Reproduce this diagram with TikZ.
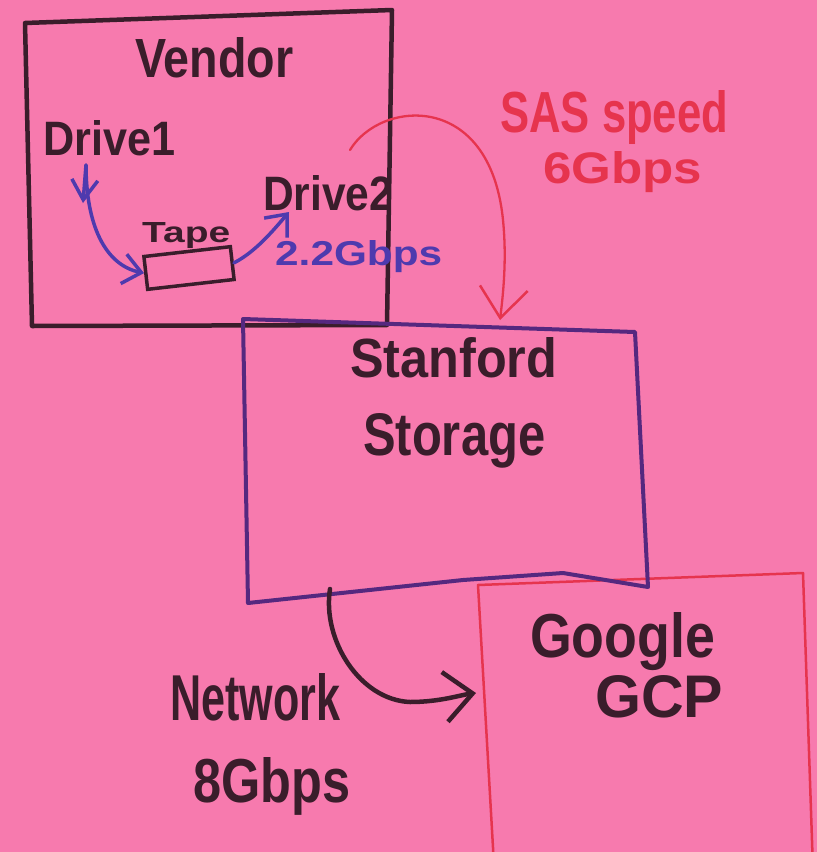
\documentclass[tikz,border=0pt]{standalone}
\usepackage{fontspec}
\setmainfont{Liberation Sans}
\usetikzlibrary{arrows.meta}
\definecolor{paper}{HTML}{F77AAE}
\definecolor{ink}{HTML}{3A1D2B}
\definecolor{bluepen}{HTML}{4E3AAE}
\definecolor{purplepen}{HTML}{55287F}
\definecolor{redpen}{HTML}{E6344E}
\newcommand{\hand}[3]{\resizebox{#1pt}{#2pt}{\bfseries #3}}
\begin{document}
\begin{tikzpicture}[x=1pt,y=-1pt,
  lbl/.style={inner sep=0pt, anchor=base west},
  inktext/.style={lbl, text=ink},
  bluetext/.style={lbl, text=bluepen},
  redtext/.style={lbl, text=redpen},
  inkbox/.style={draw=ink, line width=4.5pt, line join=round, line cap=round},
  purplebox/.style={draw=purplepen, line width=4pt, line join=round, line cap=round},
  redbox/.style={draw=redpen, line width=2.5pt, line join=round},
  bluearr/.style={draw=bluepen, line width=3.5pt, line cap=round,
    -{Straight Barb[length=18pt,width=30pt,line width=3.5pt]}},
  redarr/.style={draw=redpen, line width=2.3pt, line cap=round,
    -{Straight Barb[length=30pt,width=48pt,line width=2.5pt]}},
  inkarr/.style={draw=ink, line width=4.5pt, line cap=round,
    -{Straight Barb[length=28pt,width=50pt,line width=4.5pt]}}]
\useasboundingbox (0,0) rectangle (817,852);
\fill[paper] (0,0) rectangle (817,852);

% corner coordinates of the hand-drawn boxes
\coordinate (v1) at (25,23);  \coordinate (v2) at (392,10);
\coordinate (v3) at (387,325); \coordinate (v4) at (32,326);
\coordinate (s1) at (243,319); \coordinate (s2) at (635,332);
\coordinate (s3) at (648,587); \coordinate (s4) at (563,573);
\coordinate (s5) at (463,580); \coordinate (s6) at (248,603);
\coordinate (g1) at (496,900); \coordinate (g2) at (478,585);
\coordinate (g3) at (803,573); \coordinate (g4) at (814,900);

% Google GCP box (runs off the bottom)
\draw[redbox] (g1) -- (g2) -- (g3) -- (g4);
% Vendor box
\draw[inkbox] (v1) -- (v2) -- (v3) -- (v4) -- cycle;
% Stanford storage box
\draw[purplebox] (s1) -- (s2) -- (s3) -- (s4) -- (s5) -- (s6) -- cycle;

% texts
\node[inktext] (vendor) at (135,77) {\hand{158}{40}{Vendor}};
\node[inktext] (drive1) at (43,155) {\hand{132}{35}{Drive1}};
\node[inktext] (drive2) at (263,210) {\hand{130}{35}{Drive2}};
\node[inktext] (tapelbl) at (142,242) {\hand{88}{20}{Tape}};
\node[bluetext] (rate22) at (275,265) {\hand{167}{25}{2.2Gbps}};
\node[redtext] (sas) at (500,132) {\hand{228}{42}{SAS speed}};
\node[redtext] (sasrate) at (543,183) {\hand{159}{32}{6Gbps}};
\node[inktext] (stanford) at (350,377) {\hand{207}{40}{Stanford}};
\node[inktext] (storage) at (363,455) {\hand{182}{42}{Storage}};
\node[inktext] (google) at (530,657) {\hand{185}{45}{Google}};
\node[inktext] (gcp) at (595,717) {\hand{128}{42}{GCP}};
\node[inktext] (network) at (170,720) {\hand{170}{47}{Network}};
\node[inktext] (netrate) at (193,802) {\hand{157}{45}{8Gbps}};

% tape rectangle
\node[draw=ink, line width=3.5pt, minimum width=87pt, minimum height=33pt,
      rotate=6.5, inner sep=0pt] (tape) at (189,268) {};

% connector end points
\coordinate (d1a) at (86,165);
\coordinate (d1v) at (83,203);
\coordinate (d2a) at (289,212);
\coordinate (sasA) at (350,150);
\coordinate (stanTop) at (500,320);
\coordinate (stanBot) at (330,589);
\coordinate (gcpL) at (476,693);

% Drive1 -> Tape
\draw[bluearr, -{Straight Barb[length=20pt,width=26pt,line width=3.5pt]}] (d1a) -- (d1v);
\draw[bluearr] (d1a) .. controls (86,225) and (105,265) .. (tape.west);
% Tape -> Drive2
\draw[bluearr] (tape.east) .. controls (255,252) and (272,232) .. (d2a);
% SAS link Vendor -> Stanford
\draw[redarr] (sasA) .. controls (380,100) and (490,90) .. (503,220)
  .. controls (507,260) and (503,295) .. (stanTop);
% Network link Stanford -> Google
\draw[inkarr] (stanBot) .. controls (322,640) and (360,700) .. (410,702)
  .. controls (440,702) and (460,695) .. (gcpL);
\end{tikzpicture}
\end{document}
